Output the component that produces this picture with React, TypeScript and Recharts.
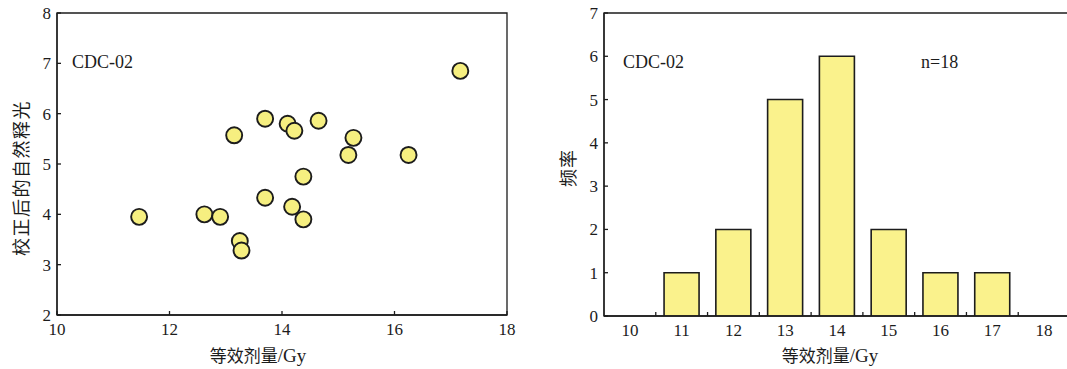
import React from 'react'
import {
  ScatterChart,
  Scatter,
  BarChart,
  Bar,
  XAxis,
  YAxis,
  ReferenceArea,
} from 'recharts'

// scatter: equivalent dose vs corrected natural luminescence
const doseValues = [
  11.46, 12.62, 12.9, 13.15, 13.25, 13.28, 13.7, 13.7, 14.1,
  14.22, 14.18, 14.38, 14.38, 14.65, 15.18, 15.27, 16.25, 17.17,
]
const lumValues = [
  3.95, 4.0, 3.95, 5.57, 3.47, 3.28, 5.9, 4.33, 5.8,
  5.66, 4.15, 4.75, 3.9, 5.86, 5.18, 5.52, 5.18, 6.85,
]

// histogram
const bins = ['10', '11', '12', '13', '14', '15', '16', '17', '18']
const counts = [0, 1, 2, 5, 6, 2, 1, 1, 0]

const xTicksLeft = [10, 12, 14, 16, 18]
const yTicksLeft = [2, 3, 4, 5, 6, 7, 8]
const yTicksRight = [0, 1, 2, 3, 4, 5, 6, 7]

const scatterData = doseValues.map((d, i) => ({ x: d, y: lumValues[i] }))
const histData = bins.map((b, i) => ({ bin: b, count: counts[i] }))

const FONT = '"Liberation Serif", "Times New Roman", serif'
const CJK = '"Noto Sans CJK SC", sans-serif'
const INK = '#1c1c1c'
const FS = 17

// right chart layout
const R_W = 530
const R_LEFT = 64
const BAND = (R_W - R_LEFT) / bins.length

const YTick = ({ x, y, payload }: any) => (
  <g>
    <line x1={x + 6} x2={x + 10} y1={y} y2={y} stroke={INK} strokeWidth={1.3} />
    <text x={x} y={y} dy="0.35em" textAnchor="end" fontFamily={FONT} fontSize={FS} fill={INK}>
      {payload.value}
    </text>
  </g>
)

const XTickLeft = ({ x, y, payload }: any) => (
  <g>
    <line x1={x} x2={x} y1={y - 8} y2={y - 12} stroke={INK} strokeWidth={1.3} />
    <text x={x} y={y} dy="0.71em" textAnchor="middle" fontFamily={FONT} fontSize={FS} fill={INK}>
      {payload.value}
    </text>
  </g>
)

const XTickRight = ({ x, y, payload, index }: any) => (
  <g>
    {index > 0 && (
      <line
        x1={x - BAND / 2}
        x2={x - BAND / 2}
        y1={y - 8}
        y2={y - 12}
        stroke={INK}
        strokeWidth={1.3}
      />
    )}
    <text x={x} y={y} dy="0.71em" textAnchor="middle" fontFamily={FONT} fontSize={FS} fill={INK}>
      {payload.value}
    </text>
  </g>
)

const Dot = (p: any) => (
  <circle cx={p.cx} cy={p.cy} r={8} fill="#f6ef80" stroke={INK} strokeWidth={1.9} />
)

const xTitle = (cx: number) => (
  <text x={cx} y={362} textAnchor="middle" fontSize={17} fill={INK}>
    <tspan fontFamily={CJK}>等效剂量</tspan>
    <tspan fontFamily={FONT} fontSize={19}>/Gy</tspan>
  </text>
)

export default function App() {
  return (
    <div
      style={{
        position: 'absolute',
        left: 0,
        top: 0,
        width: 1067,
        height: 369,
        overflow: 'hidden',
        background: '#fff',
      }}
    >
      <div style={{ position: 'absolute', left: 0, top: 0 }}>
        <ScatterChart width={540} height={369} margin={{ top: 13, right: 33, bottom: 0, left: 0 }}>
          <XAxis
            type="number"
            dataKey="x"
            domain={[10, 18]}
            ticks={xTicksLeft}
            height={54}
            axisLine={{ stroke: INK, strokeWidth: 1.3 }}
            tickLine={false}
            tickSize={0}
            tickMargin={8}
            tick={<XTickLeft />}
            allowDataOverflow
          />
          <YAxis
            type="number"
            dataKey="y"
            domain={[2, 8]}
            ticks={yTicksLeft}
            width={57}
            axisLine={{ stroke: INK, strokeWidth: 1.3 }}
            tickLine={false}
            tickSize={0}
            tickMargin={6}
            tick={<YTick />}
            allowDataOverflow
          />
          <ReferenceArea x1={10} x2={18} y1={2} y2={8} fill="none" stroke={INK} strokeWidth={1.3} />
          <Scatter data={scatterData} shape={Dot} isAnimationActive={false} />
        </ScatterChart>
        <svg
          width={540}
          height={369}
          style={{ position: 'absolute', left: 0, top: 0, pointerEvents: 'none' }}
        >
          <text x={72} y={68} fontFamily={FONT} fontSize={18} fill={INK}>
            CDC-02
          </text>
          <text
            x={20}
            y={178}
            transform="rotate(-90 20 178)"
            textAnchor="middle"
            dominantBaseline="central"
            fontFamily={CJK}
            fontSize={18}
            letterSpacing={1.5}
            fill={INK}
          >
            校正后的自然释光
          </text>
          {xTitle(258)}
        </svg>
      </div>

      <div style={{ position: 'absolute', left: 540, top: 0 }}>
        <BarChart
          width={R_W}
          height={369}
          data={histData}
          margin={{ top: 13, right: 0, bottom: 0, left: 0 }}
          barCategoryGap="16%"
        >
          <XAxis
            dataKey="bin"
            height={53}
            axisLine={{ stroke: INK, strokeWidth: 1.3 }}
            tickLine={false}
            tickSize={0}
            tickMargin={8}
            tick={<XTickRight />}
            interval={0}
          />
          <YAxis
            type="number"
            domain={[0, 7]}
            ticks={yTicksRight}
            width={R_LEFT}
            axisLine={{ stroke: INK, strokeWidth: 1.3 }}
            tickLine={false}
            tickSize={0}
            tickMargin={6}
            tick={<YTick />}
            allowDataOverflow
          />
          <ReferenceArea y1={0} y2={7} fill="none" stroke={INK} strokeWidth={1.3} />
          <Bar dataKey="count" fill="#faf28c" stroke={INK} strokeWidth={1.6} isAnimationActive={false} />
        </BarChart>
        <svg
          width={R_W}
          height={369}
          style={{ position: 'absolute', left: 0, top: 0, pointerEvents: 'none' }}
        >
          <text x={83} y={68} fontFamily={FONT} fontSize={18} fill={INK}>
            CDC-02
          </text>
          <text x={381} y={68} fontFamily={FONT} fontSize={18} fill={INK}>
            n=18
          </text>
          <text
            x={27}
            y={168}
            transform="rotate(-90 27 168)"
            textAnchor="middle"
            dominantBaseline="central"
            fontFamily={CJK}
            fontSize={18}
            letterSpacing={1}
            fill={INK}
          >
            频率
          </text>
          {xTitle(290)}
        </svg>
      </div>
    </div>
  )
}
